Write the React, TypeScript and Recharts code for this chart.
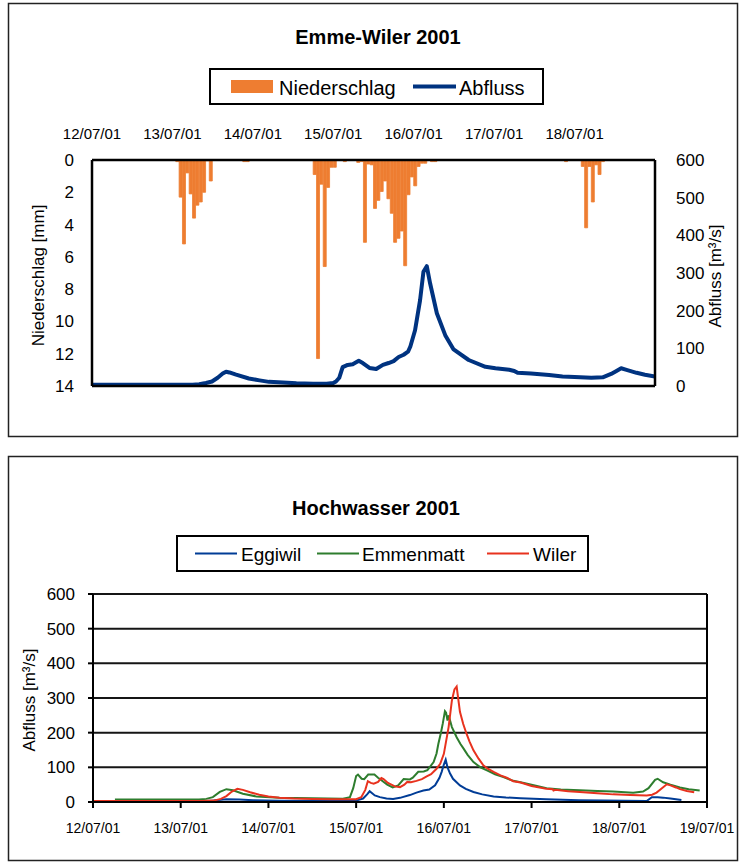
import React from 'react';
import { BarChart, Bar, LineChart, Line, XAxis, YAxis, CartesianGrid, ReferenceLine } from 'recharts';

// ---- axis / tick labels ----
const dayLabels = ['12/07/01', '13/07/01', '14/07/01', '15/07/01', '16/07/01', '17/07/01', '18/07/01', '19/07/01'];
const dayTicks = [0, 24, 48, 72, 96, 120, 144, 168];
const precipTicks = [0, 2, 4, 6, 8, 10, 12, 14];
const flowTicks = [0, 100, 200, 300, 400, 500, 600];

// ---- Emme-Wiler 2001: hourly precipitation (hour index since 12/07 00:00, mm) ----
const precipHours = [25, 26, 27, 28, 29, 30, 31, 32, 33, 34, 35, 45, 46, 66, 67, 68, 69, 70, 71, 72, 75, 79, 80, 81, 82, 83, 84, 85, 86, 87, 88, 89, 90, 91, 92, 93, 94, 95, 96, 97, 98, 99, 101, 102, 141, 146, 147, 148, 149, 150, 151, 152];
const precipMm = [0.1, 2.3, 5.2, 0.8, 2.1, 3.6, 2.8, 2.6, 2.0, 0.05, 1.3, 0.1, 0.1, 0.9, 12.3, 1.5, 6.6, 1.7, 0.45, 0.45, 0.1, 0.15, 0.1, 5.1, 0.25, 0.3, 3.0, 2.5, 1.95, 1.3, 2.4, 3.3, 5.1, 4.85, 4.4, 6.55, 2.15, 1.05, 1.6, 0.4, 0.2, 0.2, 0.1, 0.1, 0.1, 0.4, 4.2, 0.4, 2.6, 0.3, 0.9, 0.1];

// ---- Emme-Wiler 2001: discharge (hours since 12/07 00:00, m3/s) ----
const abflussHours = [0, 12, 24, 30, 32, 34, 35.8, 37.5, 39, 40, 41, 43, 46.8, 50, 52.8, 57, 61, 66, 70, 72, 72.8, 73.8, 74.8, 76.3, 77.8, 79.6, 80.8, 82.8, 84.8, 86.8, 88.5, 90, 91.5, 93, 94.3, 95, 96.4, 97.9, 98.9, 99.9, 100.9, 102.9, 105.4, 107.9, 112.4, 117.4, 120.4, 124.5, 126, 127, 131, 136.4, 140.4, 144, 149, 152.4, 154.9, 156.5, 157.9, 159.5, 162.5, 165, 168];
const abflussValues = [3, 3, 3, 3.5, 4.5, 8, 12, 22, 33, 38, 36, 30, 20, 15, 11, 9, 7, 6, 6, 8, 12, 22, 50, 56, 58, 67, 61, 48, 45, 56, 61, 66, 77, 83, 91, 105, 148, 228, 303, 318, 272, 193, 135, 97, 69, 51, 47, 43, 40, 35, 33, 29, 25, 24, 22, 23, 32, 40, 47, 43, 35, 30, 25];

// ---- Hochwasser 2001 ----
const eggiwilHours = [0, 30, 33, 36.5, 40, 43.8, 51, 60, 69.3, 72, 73.9, 75, 75.7, 77.1, 78.5, 80.3, 82.1, 84, 86.7, 88.5, 90.4, 92, 93.6, 94.8, 95.4, 96, 96.5, 97, 97.7, 98.5, 100.4, 102, 104.1, 106.5, 109.6, 113, 117, 124, 133, 140, 151.5, 152.9, 154.5, 156, 158, 161];
const eggiwilValues = [2, 2, 4, 8, 7, 5, 3.5, 3, 3, 4, 10, 22, 31, 19, 14, 10, 9, 12, 20, 27, 33, 36, 48, 70, 87, 108, 122, 100, 82, 67, 48, 38, 29, 22, 16, 13, 10.5, 7.7, 5, 4, 3, 14, 14, 12.6, 10, 6];

const emmenmattHours = [6, 20, 29, 31, 32.8, 34.7, 36.5, 38.3, 41, 44.7, 51, 60, 68.4, 70.3, 71.2, 72, 72.5, 73.5, 74.2, 75.3, 77, 78, 79, 80.5, 82, 83.5, 85, 86.7, 87.5, 89, 90.5, 91.5, 93.2, 94, 94.5, 95.2, 95.7, 96.3, 96.6, 97, 97.3, 98.2, 99.5, 100.5, 101.4, 102.5, 104.1, 106, 107.8, 110, 112.3, 115, 117, 120, 124.1, 128, 133.2, 138, 142.3, 147.8, 150.5, 152, 153.8, 154.5, 156, 158, 160.6, 163, 166];
const emmenmattValues = [7, 7, 7, 9, 14, 29, 37, 34, 24, 16, 12.5, 10.6, 9.6, 14, 40, 75, 79, 67, 66, 79, 79, 70, 62, 50, 42, 48, 66, 65, 70, 87, 88, 92, 115, 140, 168, 200, 226, 262, 258, 235, 250, 216, 187, 168, 154, 136, 115, 100, 91, 80, 72, 61, 57, 50, 40, 36, 34, 32, 30, 27, 30, 40, 64, 67, 57, 50, 42, 37, 33];

const wilerHours = [0, 30, 33, 35, 36.5, 38, 39.5, 41, 43, 45.5, 48, 51, 55, 60, 65, 70, 72, 73.4, 74.5, 75.2, 76, 76.8, 78, 78.9, 79.5, 80.7, 82.6, 84, 85.2, 86, 87, 88.5, 90, 91.3, 92.5, 94, 95, 96, 97.3, 98.2, 98.9, 99.5, 100.4, 101.3, 102.2, 103, 104.1, 105.5, 106.8, 108, 109.6, 111.5, 113.2, 115, 117, 120, 124, 125.8, 126, 126.5, 130, 133.2, 138, 142.3, 147, 151.5, 153, 154.2, 155.5, 157, 158, 159.5, 160.6, 162.5, 164.5];
const wilerValues = [3, 3, 4, 9, 17, 30, 38, 35, 28, 21, 16, 12.5, 10, 8.7, 8, 7.7, 8, 14, 35, 60, 55, 53, 58, 69, 66, 55, 45, 43, 50, 58, 57, 61, 66, 74, 80, 96, 110, 139, 216, 293, 325, 333, 260, 225, 197, 175, 149, 125, 106, 96, 87, 77, 70, 60, 56, 46, 38, 37, 33, 35, 31, 29, 25, 22, 20, 19, 21, 27, 38, 51, 48, 42, 37, 32, 28];

// ---- tables built from the arrays ----
const precipData = precipHours.map((h, i) => ({ t: h + 0.5, n: precipMm[i] }));
const abflussData = abflussHours.map((h, i) => ({ t: h, q: abflussValues[i] }));

function mergeSeries(list: [string, number[], number[]][]) {
  const map = new Map<number, any>();
  for (const [key, hs, vs] of list) {
    hs.forEach((h, i) => {
      const row = map.get(h) ?? { t: h };
      row[key] = vs[i];
      map.set(h, row);
    });
  }
  return Array.from(map.values()).sort((a, b) => a.t - b.t);
}
const flowData = mergeSeries([
  ['eggiwil', eggiwilHours, eggiwilValues],
  ['emmenmatt', emmenmattHours, emmenmattValues],
  ['wiler', wilerHours, wilerValues],
]);

const ORANGE = '#EE7D31';
const NAVY = '#003380';
const BLUE = '#003C96';
const GREEN = '#2E7D2E';
const RED = '#E8321E';
const FONT = '"Liberation Sans", Arial, sans-serif';

const dayFmt = (v: number) => dayLabels[dayTicks.indexOf(v)] ?? '';

export default function App() {
  return (
    <div style={{ position: 'absolute', left: 0, top: 0, width: 746, height: 867, background: '#fff', fontFamily: FONT }}>
      {/* Top chart: precipitation bars */}
      <div style={{ position: 'absolute', left: 0, top: 0 }}>
        <BarChart width={746} height={440} data={precipData} margin={{ top: 0, right: 91, bottom: 54, left: 0 }} barCategoryGap={0} barGap={0}>
          <XAxis
            dataKey="t"
            type="number"
            orientation="top"
            domain={[0, 168]}
            ticks={dayTicks.slice(0, 7)}
            tickFormatter={dayFmt}
            height={160}
            axisLine={false}
            tickLine={false}
            tickSize={0}
            tickMargin={21}
            allowDataOverflow
            tick={{ fontSize: 15, fill: '#000' }}
          />
          <YAxis
            reversed
            type="number"
            domain={[0, 14]}
            ticks={precipTicks}
            width={92}
            axisLine={false}
            tickLine={false}
            tickSize={0}
            tickMargin={18}
            allowDataOverflow
            tick={{ fontSize: 17, fill: '#000' }}
          />
          <Bar dataKey="n" fill={ORANGE} stroke={ORANGE} strokeWidth={0.8} isAnimationActive={false} />
        </BarChart>
      </div>
      {/* Top chart: discharge line */}
      <div style={{ position: 'absolute', left: 0, top: 0 }}>
        <LineChart width={746} height={440} data={abflussData} margin={{ top: 160, right: 0, bottom: 54, left: 92 }}>
          <XAxis dataKey="t" type="number" domain={[0, 168]} hide allowDataOverflow />
          <YAxis
            orientation="right"
            type="number"
            domain={[0, 600]}
            ticks={flowTicks}
            width={91}
            axisLine={false}
            tickLine={false}
            tickSize={0}
            tickMargin={21}
            tick={{ fontSize: 17, fill: '#000', textAnchor: 'start' }}
          />
          <Line type="linear" dataKey="q" stroke={NAVY} strokeWidth={4} dot={false} strokeLinejoin="round" isAnimationActive={false} />
          <ReferenceLine x={0} stroke="#000" strokeWidth={2.5} />
          <ReferenceLine x={168} stroke="#000" strokeWidth={2.5} />
          <ReferenceLine y={0} stroke="#000" strokeWidth={2.5} />
          <ReferenceLine y={600} stroke="#000" strokeWidth={2.5} />
        </LineChart>
      </div>
      {/* Bottom chart */}
      <div style={{ position: 'absolute', left: 0, top: 450 }}>
        <LineChart width={746} height={417} data={flowData} margin={{ top: 144, right: 39, bottom: 25, left: 0 }}>
          <CartesianGrid vertical={false} stroke="#151515" strokeWidth={2} />
          <XAxis
            dataKey="t"
            type="number"
            domain={[0, 168]}
            ticks={dayTicks}
            tickFormatter={dayFmt}
            height={40}
            axisLine={{ stroke: '#000', strokeWidth: 2 }}
            tickLine={{ stroke: '#000', strokeWidth: 2 }}
            tickSize={6}
            tickMargin={15}
            interval={0}
            tick={{ fontSize: 14, fill: '#000' }}
          />
          <YAxis
            type="number"
            domain={[0, 600]}
            ticks={flowTicks}
            width={93}
            axisLine={{ stroke: '#000', strokeWidth: 2 }}
            tickLine={{ stroke: '#000', strokeWidth: 2 }}
            tickSize={5}
            tickMargin={13}
            tick={{ fontSize: 17, fill: '#000' }}
          />
          <ReferenceLine x={168} stroke="#000" strokeWidth={2} />
          <Line type="linear" dataKey="eggiwil" stroke={BLUE} strokeWidth={2} dot={false} connectNulls isAnimationActive={false} />
          <Line type="linear" dataKey="emmenmatt" stroke={GREEN} strokeWidth={2} dot={false} connectNulls isAnimationActive={false} />
          <Line type="linear" dataKey="wiler" stroke={RED} strokeWidth={2} dot={false} connectNulls isAnimationActive={false} />
        </LineChart>
      </div>
      {/* Frames, titles, legends, axis titles */}
      <svg width={746} height={867} style={{ position: 'absolute', left: 0, top: 0, pointerEvents: 'none', fontFamily: FONT }}>
        <rect x={8.5} y={3.5} width={729} height={433} fill="none" stroke="#222" strokeWidth={1.5} />
        <rect x={8.5} y={456.5} width={729} height={404} fill="none" stroke="#222" strokeWidth={1.5} />

        <text x={378} y={43.5} textAnchor="middle" fontSize={20} fontWeight="bold" fill="#000">Emme-Wiler 2001</text>
        <rect x={210} y={69} width={333} height={35} fill="#fff" stroke="#000" strokeWidth={2} />
        <rect x={231} y={80} width={42} height={13} fill={ORANGE} />
        <text x={279} y={94.5} fontSize={20} fill="#000">Niederschlag</text>
        <line x1={413} x2={456} y1={86.5} y2={86.5} stroke={NAVY} strokeWidth={4} />
        <text x={459} y={94.5} fontSize={20} fill="#000">Abfluss</text>
        <text x={44} y={275.5} transform="rotate(-90 44 275.5)" textAnchor="middle" fontSize={17} fill="#000">Niederschlag [mm]</text>
        <text x={721} y={276} transform="rotate(-90 721 276)" textAnchor="middle" fontSize={17} fill="#000">Abfluss [m³/s]</text>

        <text x={376} y={515} textAnchor="middle" fontSize={20} fontWeight="bold" fill="#000">Hochwasser 2001</text>
        <rect x={177} y={536} width={411} height={35} fill="#fff" stroke="#000" strokeWidth={2} />
        <line x1={195} x2={237} y1={553.5} y2={553.5} stroke={BLUE} strokeWidth={2} />
        <text x={241} y={560.5} fontSize={19} fill="#000">Eggiwil</text>
        <line x1={317} x2={359} y1={553.5} y2={553.5} stroke={GREEN} strokeWidth={2} />
        <text x={362} y={560.5} fontSize={19} fill="#000">Emmenmatt</text>
        <line x1={487} x2={529} y1={553.5} y2={553.5} stroke={RED} strokeWidth={2} />
        <text x={533} y={560.5} fontSize={19} fill="#000">Wiler</text>
        <text x={34.5} y={700} transform="rotate(-90 34.5 700)" textAnchor="middle" fontSize={17} fill="#000">Abfluss [m³/s]</text>
      </svg>
    </div>
  );
}
